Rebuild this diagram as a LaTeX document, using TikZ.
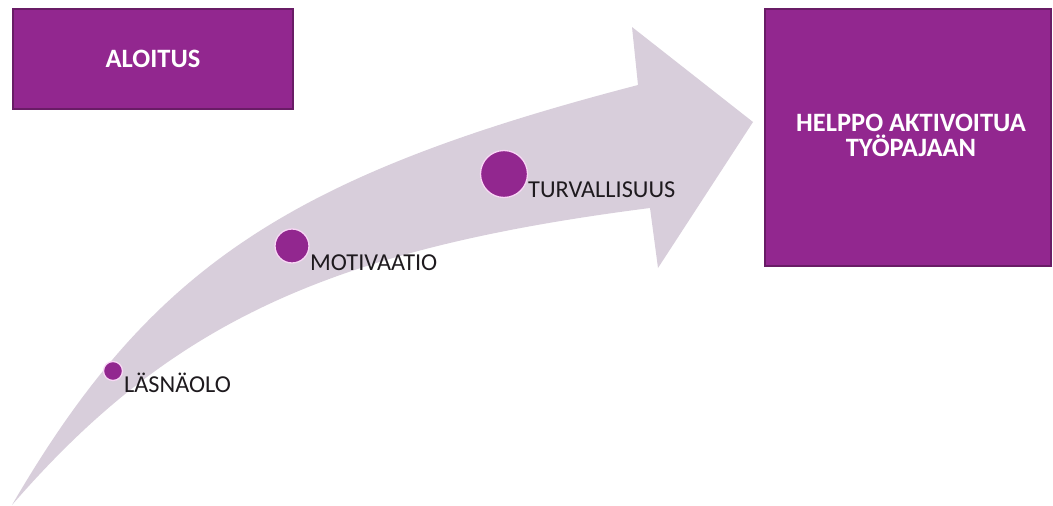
\documentclass[tikz,border=0pt]{standalone}
\usepackage{fontspec}
\setmainfont{Carlito}
\definecolor{boxpurple}{RGB}{146,39,143}
\definecolor{boxedge}{RGB}{105,28,102}
\definecolor{arrowfill}{RGB}{216,206,219}
\definecolor{dotedge}{RGB}{248,214,245}
\definecolor{labeltext}{RGB}{30,26,30}
\tikzset{
  titlebox/.style={rectangle, fill=boxpurple, draw=boxedge, line width=1.2pt,
    text=white, align=center, inner sep=0pt,
    font=\fontsize{26.5}{25}\selectfont\bfseries},
  stepdot/.style={circle, fill=boxpurple, draw=dotedge, line width=1.3pt, inner sep=0pt},
  steplabel/.style={anchor=base west, inner sep=0pt, text=labeltext,
    font=\fontsize{24.3}{29}\selectfont},
}
\begin{document}
\begin{tikzpicture}[x=1pt,y=-1pt]
\useasboundingbox (0,0) rectangle (1053,506);
% big curved arrow
\fill[arrowfill] (12,505) .. controls (150,268) and (288,176) .. (638,85)
  -- (632,27) -- (753,122) -- (658,268) -- (650,208)
  .. controls (329,249) and (170,323) .. (12,505) -- cycle;
% boxes
\node[titlebox, minimum width=280pt, minimum height=100pt] (start) at (153,59) {ALOITUS};
\node[titlebox, minimum width=286pt, minimum height=257pt] (goal) at (908,137.5) {};
\node[text=white, align=center, inner sep=0pt, anchor=base,
  font=\fontsize{26.5}{25}\selectfont\bfseries] (goaltext) at (911,156.7)
  {HELPPO AKTIVOITUA\\TYÖPAJAAN};
% dots and labels
\node[stepdot, minimum size=19pt] (d1) at (113,371) {};
\node[steplabel] (l1) at (124,392) {LÄSNÄOLO};
\node[stepdot, minimum size=34pt] (d2) at (292,246) {};
\node[steplabel] (l2) at (310,270) {MOTIVAATIO};
\node[stepdot, minimum size=47pt] (d3) at (504,174) {};
\node[steplabel] (l3) at (528,197) {TURVALLISUUS};
\end{tikzpicture}
\end{document}
